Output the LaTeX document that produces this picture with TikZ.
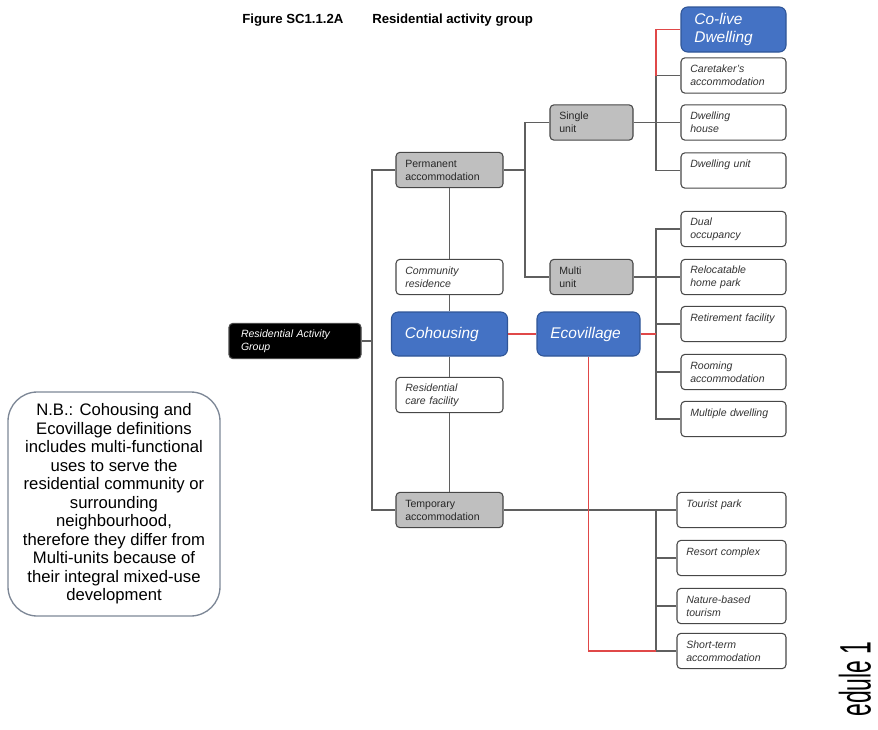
\documentclass[tikz,border=0pt]{standalone}
\usepackage{fontspec}
\setmainfont{Liberation Sans}
\usepackage{tikz}
\definecolor{cblue}{HTML}{4472C4}
\definecolor{cbluedk}{HTML}{2F5597}
\definecolor{cgray}{HTML}{BFBFBF}
\definecolor{cline}{HTML}{5F5F5F}
\definecolor{cred}{HTML}{E04848}
\definecolor{cnote}{HTML}{7D8796}
\tikzset{
  box/.style={draw=black!72, line width=0.8pt, rounded corners=3pt, align=left,
              inner xsep=7pt, inner ysep=0pt, minimum height=26.5pt},
  wb/.style={box, fill=white, text=black!80, text width=#1,
             font=\fontsize{7.9}{9.7}\selectfont\itshape},              % white box
  wb/.default=64.75pt,
  gb/.style={box, fill=cgray, text=black!85, text width=#1,
             font=\fontsize{7.9}{9.7}\selectfont},                      % grey box
  bb/.style={box, draw=cbluedk, fill=cblue, text=white, rounded corners=5pt,
             inner xsep=10pt, minimum height=33pt, text width=#1,
             font=\fontsize{11.6}{13}\selectfont\itshape},              % blue box
  kb/.style={box, fill=black, text=white, inner xsep=9pt, text width=81pt,
             font=\fontsize{7.9}{9.7}\selectfont\itshape},              % black box
  ln/.style={draw=cline, line width=1pt},                               % grey link
  rl/.style={draw=cred, line width=1pt},                                % red link
  ttl/.style={anchor=west, inner sep=0pt, font=\fontsize{9.9}{12}\selectfont\bfseries},
  note/.style={draw=cnote, line width=1pt, rounded corners=22pt, align=center,
               minimum width=159pt, minimum height=168pt, inner sep=0pt,
               font=\fontsize{12.5}{13.9}\selectfont},
}

\begin{document}
\begin{tikzpicture}[x=0.75pt, y=-0.75pt]
  \useasboundingbox (0,0) rectangle (878,729);
  \node[ttl] (fig) at (242,20) {Figure SC1.1.2A};
  \node[ttl] (cap) at (372,20) {Residential activity group};

  % left column
  \node[kb] (rag) at (295,341) {Residential Activity\\Group};
  \node[gb=66.25pt] (perm) at (449.5,170) {Permanent\\accommodation};
  \node[wb=66.25pt] (comm) at (449.5,277) {Community\\residence};
  \node[bb=67pt] (coh) at (449.5,334) {Cohousing};
  \node[wb=66.25pt] (rcare) at (449.5,395) {Residential\\care facility};
  \node[gb=66.25pt] (temp) at (449.5,510) {Temporary\\accommodation};

  % middle column
  \node[gb=48.25pt] (single) at (591.5,122.5) {Single\\unit};
  \node[gb=48.25pt] (multi) at (591.5,277) {Multi\\unit};
  \node[bb=57.25pt] (eco) at (588.5,334) {Ecovillage};

  % right column
  \node[bb=58.75pt, minimum height=33.75pt] (colive) at (733.5,29.5) {Co-live\\Dwelling};
  \node[wb] (care) at (733.5,75.5) {Caretaker's\\accommodation};
  \node[wb] (house) at (733.5,122.5) {Dwelling\\house};
  \node[wb] (dunit) at (733.5,170.5) {Dwelling unit\\\mbox{}};
  \node[wb] (dual) at (733.5,229) {Dual\\occupancy};
  \node[wb] (reloc) at (733.5,277) {Relocatable\\home park};
  \node[wb] (retire) at (733.5,324) {Retirement facility\\\mbox{}};
  \node[wb] (room) at (733.5,372) {Rooming\\accommodation};
  \node[wb] (mdw) at (733.5,419) {Multiple dwelling\\\mbox{}};
  \node[wb=67.75pt] (tour) at (731.5,510) {Tourist park\\\mbox{}};
  \node[wb=67.75pt] (resort) at (731.5,558) {Resort complex\\\mbox{}};
  \node[wb=67.75pt] (nature) at (731.5,606) {Nature-based\\tourism};
  \node[wb=67.75pt] (short) at (731.5,651) {Short-term\\accommodation};

  \node[note] (nb) at (114,504) {N.B.: Cohousing and\\Ecovillage definitions\\includes multi-functional\\uses to serve the\\residential community or\\surrounding\\neighbourhood,\\therefore they differ from\\Multi-units because of\\their integral mixed-use\\development};
  \node[inner sep=0pt, rotate=90, font=\fontsize{33}{36}\selectfont] (sch) at (855,679) {\scalebox{0.52}[1]{edule 1}};

  % junctions
  \coordinate (bL) at (372,341);
  \coordinate (bP) at (525,170);
  \coordinate (bS) at (656,122.5);
  \coordinate (bC) at (656,75.5);
  \coordinate (bM) at (656,324);
  \coordinate (bE) at (656,334);
  \coordinate (bT) at (656,558);
  \coordinate (bR) at (656,651);

  \draw[ln] (rag) -- (bL);
  \draw[ln] (perm) -| (bL) |- (temp);
  \foreach \u/\v in {perm/comm,comm/coh,coh/rcare,rcare/temp} \draw[ln] (\u)--(\v);
  \draw[ln] (perm) -- (bP);
  \draw[ln] (single) -| (bP) |- (multi);
  \draw[ln] (single) -- (house);
  \draw[ln] (care) -| (bS) |- (dunit);
  \draw[ln] (multi) -- (reloc);
  \draw[ln] (dual) -| (bM) |- (mdw);
  \draw[ln] (retire) -- (bM);
  \draw[ln] (room) -| (bM);
  \draw[ln] (temp) -- (tour);
  \draw[ln] (tour) -| (bT) |- (short);
  \draw[ln] (resort) -- (bT);
  \draw[ln] (nature) -| (bT);

  \draw[rl] (colive) -| (bC);
  \draw[rl] (coh) -- (eco);
  \draw[rl] (eco) -- (bE);
  \draw[rl] (eco) |- (bR);
\end{tikzpicture}
\end{document}
